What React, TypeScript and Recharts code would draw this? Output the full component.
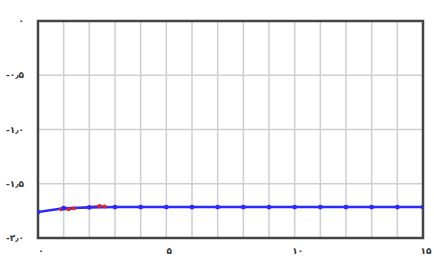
import React from "react";
import { LineChart, Line, XAxis, YAxis, CartesianGrid, ReferenceArea } from "recharts";

const xValues = [0, 1, 2, 3, 4, 5, 6, 7, 8, 9, 10, 11, 12, 13, 14, 15];
const blueValues = [-1.76, -1.725, -1.718, -1.715, -1.715, -1.715, -1.715, -1.715, -1.715, -1.715, -1.715, -1.715, -1.715, -1.715, -1.715, -1.715];
const redX = [0.9, 1.2, 1.4, 2.4, 2.6];
const redValues = [-1.735, -1.735, -1.725, -1.705, -1.71];

const xTicks = [0, 1, 2, 3, 4, 5, 6, 7, 8, 9, 10, 11, 12, 13, 14, 15];
const xTickLabels: Record<number, string> = { 0: "۰", 5: "۵", 10: "۱۰", 15: "۱۵" };
const yTicks = [0, -0.5, -1, -1.5, -2];
const yTickLabels = ["۰", "-۰٫۵", "-۱٫۰", "-۱٫۵", "-۲٫۰"];

const blueData = xValues.map((x, i) => ({ x, y: blueValues[i] }));
const redData = redX.map((x, i) => ({ x, y: redValues[i] }));

const tickStyle = { fontFamily: "DejaVu Sans", fontSize: 9, fill: "#333", fontWeight: 700 };

export default function App() {
  return (
    <div style={{ position: "absolute", left: 0, top: 0, background: "#fff" }}>
      <LineChart width={434} height={259} margin={{ top: 21, right: 11, bottom: 0, left: 0 }}>
        <CartesianGrid xAxisId="b" yAxisId="l" stroke="#cfcfcf" strokeWidth={1.5} />
        <XAxis
          xAxisId="b"
          dataKey="x"
          type="number"
          domain={[0, 15]}
          ticks={xTicks}
          interval={0}
          height={21}
          tickLine={false}
          axisLine={false}
          tick={tickStyle}
          tickFormatter={(v: number) => xTickLabels[v] ?? ""}
          dx={3}
          dy={2}
          allowDataOverflow
        />
        <YAxis
          yAxisId="l"
          type="number"
          domain={[-2, 0]}
          ticks={yTicks}
          width={38}
          tickLine={false}
          axisLine={false}
          tick={tickStyle}
          tickFormatter={(v: number) => yTickLabels[yTicks.indexOf(v)] ?? ""}
          dx={-6}
          allowDataOverflow
        />
        <ReferenceArea
          xAxisId="b"
          yAxisId="l"
          x1={0}
          x2={15}
          y1={-2}
          y2={0}
          fill="none"
          fillOpacity={0}
          stroke="#444"
          strokeWidth={2.5}
          ifOverflow="extendDomain"
        />
        <Line
          xAxisId="b"
          yAxisId="l"
          data={redData}
          dataKey="y"
          stroke="#e82020"
          strokeWidth={2}
          dot={{ r: 1, fill: "#e82020", stroke: "#e82020" }}
          isAnimationActive={false}
        />
        <Line
          xAxisId="b"
          yAxisId="l"
          data={blueData}
          dataKey="y"
          stroke="#2a2aff"
          strokeWidth={2.5}
          dot={{ r: 1.2, fill: "#2a2aff", stroke: "#2a2aff" }}
          isAnimationActive={false}
        />
      </LineChart>
    </div>
  );
}
